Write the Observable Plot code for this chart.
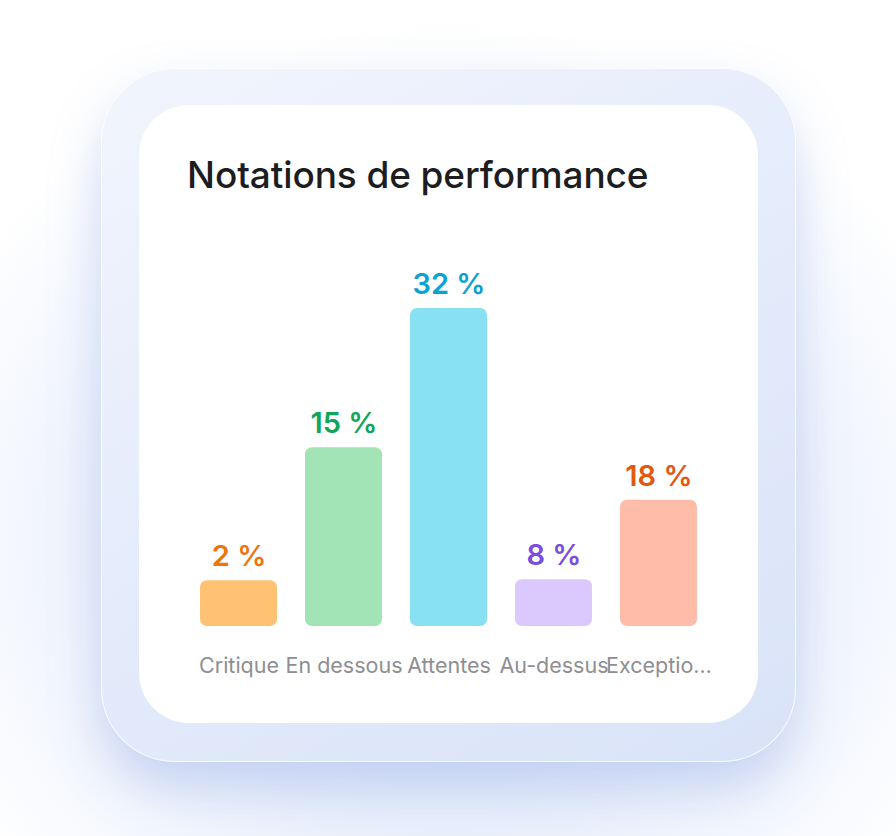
<!DOCTYPE html>
<html>
<head>
<meta charset="utf-8">
<script src="https://cdn.jsdelivr.net/npm/d3@7"></script>
<script src="https://cdn.jsdelivr.net/npm/@observablehq/plot@0.6"></script>
<style>
  html, body { margin: 0; padding: 0; }
  body {
    width: 896px; height: 836px; position: relative; overflow: hidden;
    background: radial-gradient(ellipse 560px 520px at 448px 540px, #d6e0f7 0%, #e9effb 55%, #ffffff 100%);
    font-family: Inter, "Noto Sans", sans-serif;
  }
  #outer {
    position: absolute; left: 101px; top: 68px; width: 695px; height: 694px;
    border-radius: 74px;
    background: linear-gradient(150deg, #f2f5fd 0%, #e5ecfb 45%, #d9e3f8 100%);
    box-shadow: 0 26px 50px rgba(125,155,225,0.35), 0 0 0 1px rgba(255,255,255,0.8) inset;
  }
  #inner {
    position: absolute; left: 139px; top: 105px; width: 619px; height: 618px;
    border-radius: 50px; background: #ffffff;
  }
  #title {
    position: absolute; left: 187px; top: 156px; margin: 0;
    font-size: 37px; line-height: 37px; font-weight: 500; color: #1d1d1f;
    letter-spacing: -0.1px; white-space: nowrap;
  }
  #chart { position: absolute; left: 139px; top: 250px; }
</style>
</head>
<body>
<div id="outer"></div>
<div id="inner"></div>
<h1 id="title">Notations de performance</h1>
<div id="chart"></div>
<script>
const categories = ["Critique", "En dessous", "Attentes", "Au-dessus", "Exceptionnel"];
const tickLabels = ["Critique", "En dessous", "Attentes", "Au-dessus", "Exceptio…"];
const percentLabels = [2, 15, 32, 8, 18];
const barHeights = [4.6, 18.0, 32, 4.7, 12.7];
const barColors = ["#ffc273", "#a2e4b6", "#88e0f3", "#dbc8fd", "#ffbca8"];
const labelColors = ["#ec760c", "#10a55a", "#0ba2d2", "#7a4de0", "#e35810"];

const data = categories.map((c, i) => ({
  category: c, height: barHeights[i], pct: percentLabels[i],
  bar: barColors[i], label: labelColors[i]
}));

const chart = Plot.plot({
  width: 620,
  height: 450,
  marginTop: 58,
  marginBottom: 74,
  marginLeft: 33,
  marginRight: 34,
  style: { fontFamily: "Inter, 'Noto Sans', sans-serif", background: "transparent", overflow: "visible" },
  x: { domain: categories, padding: 0.267, round: false, label: null },
  y: { domain: [0, 32], axis: null },
  marks: [
    Plot.barY(data, { x: "category", y: "height", fill: d => d.bar, rx: 7, insetLeft: 0, insetRight: 0 }),
    Plot.text(data, {
      x: "category", y: "height", text: d => `${d.pct} %`, fill: d => d.label,
      dy: -24, fontSize: 29, fontWeight: 600, letterSpacing: 1.5
    }),
    Plot.axisX({
      tickSize: 0, tickPadding: 31, fontSize: 21.5, fill: "#8e8e93",
      tickFormat: d => tickLabels[categories.indexOf(d)], label: null
    })
  ]
});
document.getElementById("chart").appendChild(chart);
</script>
</body>
</html>
